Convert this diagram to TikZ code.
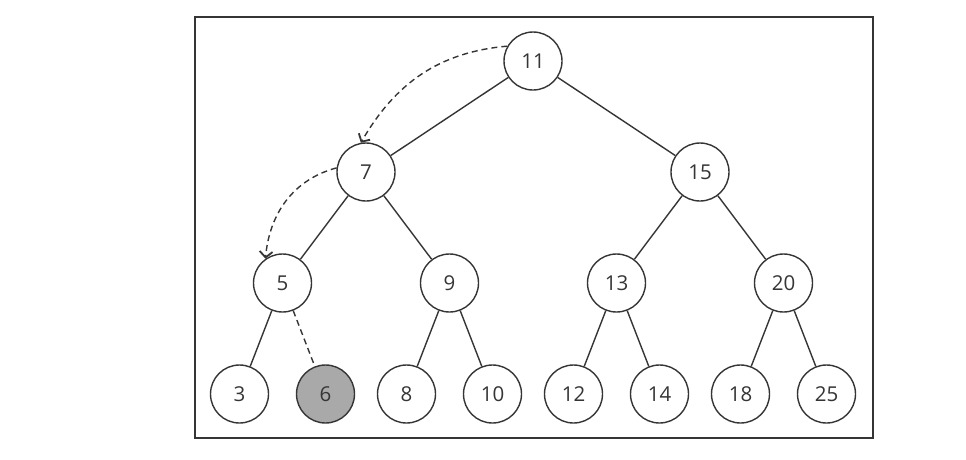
\documentclass[tikz,border=0pt]{standalone}
\usepackage{fontspec}
\setmainfont{Open Sans}
\usetikzlibrary{arrows.meta}
\definecolor{trait}{HTML}{353535}
\definecolor{grisnoeud}{HTML}{A9A9A9}
\begin{document}
\begin{tikzpicture}[x=1pt,y=1pt,level distance=111pt,grow=down, % la longueur des branches
  every node/.style={circle,draw=trait,line width=1.4pt,minimum size=58pt,inner sep=0pt,
    font=\fontsize{20.5}{22}\selectfont,text=trait},
  edge from parent/.style={draw=trait,line width=1.4pt},
  fleche/.style={draw=trait,line width=1.4pt,dash pattern=on 6pt off 4pt,
    -{Straight Barb[length=6pt,width=13pt,line width=1.8pt]}}]
\useasboundingbox (0,0) rectangle (966,-459);
\draw[trait,line width=1.6pt] (195,-17) rectangle (873,-438); % cadre
\tikzstyle{level 1}=[sibling distance=334pt] % espace horizontal
\tikzstyle{level 2}=[sibling distance=167pt]
\tikzstyle{level 3}=[sibling distance=86pt]
\node (n11) at (533,-61) {11}
child {node (n7) {7}
	child {node (n5) {5}
		child {node (n3) {3}}
		child {node (n6) [fill=grisnoeud] {6}
			edge from parent [dash pattern=on 6pt off 4pt]
		}
	}
	child {node (n9) {9}
		child {node (n8) {8}}
		child {node (n10) {10}}
	}
}
child {node (n15) {15}
	child {node (n13) {13}
		child {node (n12) {12}}
		child {node (n14) {14}}
	}
	child {node (n20) {20}
		child {node (n18) {18}}
		child {node (n25) {25}}
	}
};
% les fleches en pointilles
\draw[fleche] (n11.150) to[out=185,in=60] (n7.100);
\draw[fleche] (n7.172) to[out=195,in=85] (n5.125);
\end{tikzpicture}
\end{document}
